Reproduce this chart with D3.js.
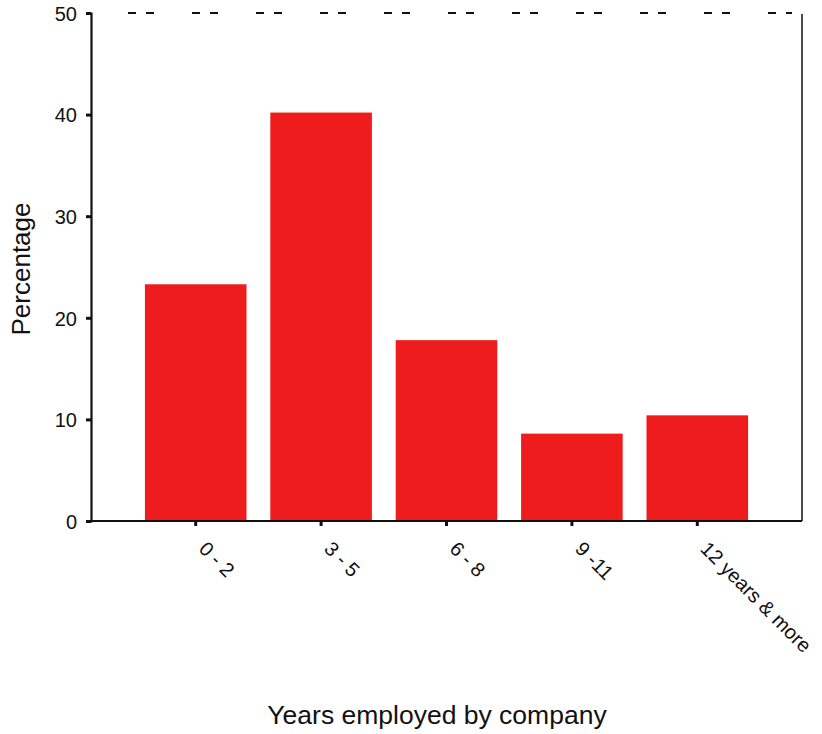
<!DOCTYPE html>
<html><head><meta charset="utf-8">
<script src="https://cdn.jsdelivr.net/npm/d3@7"></script>
<style>body{margin:0;background:#fff}svg{display:block}text{font-family:"Liberation Sans",Arial,sans-serif;fill:#111}</style>
</head><body>
<script>
const categories = ["0 - 2", "3 - 5", "6 - 8", "9 -11", "12 years & more"];
const values = [23.3, 40.2, 17.8, 8.6, 10.4];
const yTicks = [0, 10, 20, 30, 40, 50];

(function () {
const W = 822, H = 734;
const svg = d3.select("body").append("svg").attr("width", W).attr("height", H);
const mLeft = 91, mRight = 802, mTop = 13, mBottom = 521;

const x = d3.scaleBand().domain(categories).range([133, 760]).paddingInner(0.19).paddingOuter(0.095);
const y = d3.scaleLinear().domain([0, 50]).range([mBottom, mTop]);

// bars
svg.append("g").selectAll("rect").data(values).join("rect")
  .attr("x", (d, i) => x(categories[i]))
  .attr("width", x.bandwidth())
  .attr("y", d => y(d))
  .attr("height", d => y(0) - y(d))
  .attr("fill", "#ee1c1c");

// top dashed line
svg.append("line").attr("x1", 128).attr("x2", 792).attr("y1", y(50)).attr("y2", y(50))
  .attr("stroke", "#111").attr("stroke-width", 2).attr("stroke-dasharray", "8,10,8,38");

// right border
svg.append("line").attr("x1", mRight).attr("x2", mRight).attr("y1", y(50) + 1).attr("y2", mBottom)
  .attr("stroke", "#111").attr("stroke-width", 1.5);

// y axis
const yAxis = svg.append("g").attr("transform", `translate(${mLeft},0)`)
  .call(d3.axisLeft(y).tickValues(yTicks).tickSize(5).tickPadding(9).tickFormat(d3.format("d")));
yAxis.select(".domain").attr("stroke", "#111").attr("stroke-width", 2.2);
yAxis.selectAll(".tick line").attr("stroke", "#111").attr("stroke-width", 3);
yAxis.selectAll(".tick text").attr("font-size", 20).attr("dy", "0.36em");

// x axis
const xAxis = svg.append("g").attr("transform", `translate(0,${mBottom})`)
  .call(d3.axisBottom(x).tickSize(5).tickSizeOuter(0).tickPadding(0));
xAxis.select(".domain").remove();
xAxis.selectAll(".tick line").attr("stroke", "#111").attr("stroke-width", 3);
xAxis.selectAll(".tick text").remove();
svg.append("line").attr("x1", mLeft - 5).attr("x2", mRight).attr("y1", mBottom).attr("y2", mBottom)
  .attr("stroke", "#111").attr("stroke-width", 2.2);

// rotated labels
svg.append("g").selectAll("text").data(categories).join("text")
  .attr("transform", d => `translate(${x(d) + x.bandwidth() / 2 + 2},${mBottom + 29}) rotate(45)`)
  .attr("font-size", 20).attr("text-anchor", "start")
  .text(d => d);

// axis titles
svg.append("text").attr("transform", `translate(30,${269}) rotate(-90)`)
  .attr("text-anchor", "middle").attr("font-size", 26).text("Percentage");
svg.append("text").attr("x", 437).attr("y", 724).attr("text-anchor", "middle")
  .attr("font-size", 26.5).text("Years employed by company");
})();
</script>
</body></html>
